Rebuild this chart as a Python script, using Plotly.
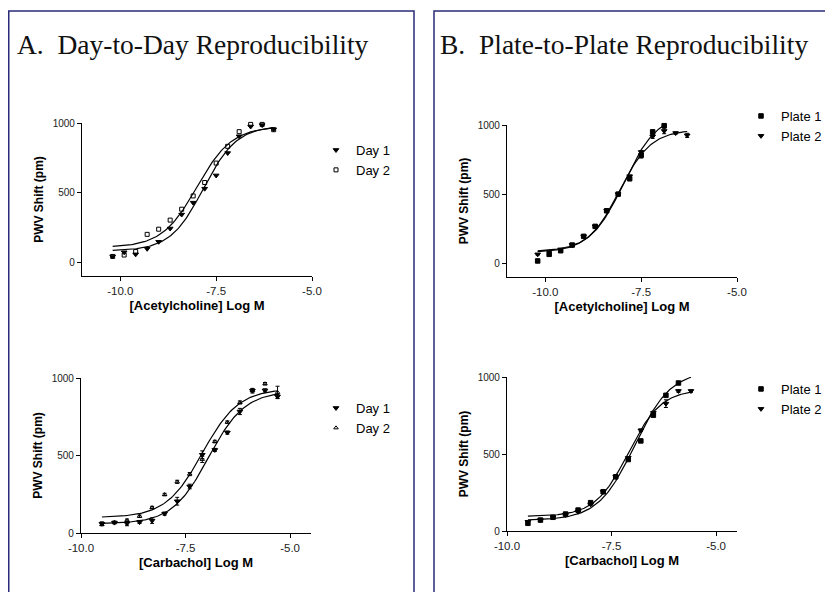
"""Day-to-day and plate-to-plate reproducibility of PWV shift dose-response curves."""
import numpy as np
import plotly.graph_objects as go

# the page body keeps its default 8px margin, so the figure is placed 8px in
OX, OY = 8, 8
W, H = 833 - OX, 592 - OY

# ---- data ----
# A (top): acetylcholine, day to day
ach_day_x = [-10.2, -9.9, -9.6, -9.3, -9.0, -8.7, -8.4, -8.1, -7.8, -7.5, -7.2, -6.9, -6.6, -6.3, -6.0]
ach_day1_y = [45, 75, 60, 100, 150, 245, 345, 430, 530, 625, 785, 905, 975, 985, 955]
ach_day2_y = [45, 55, 80, 203, 240, 305, 383, 478, 574, 713, 833, 938, 990, 990, 952]

# A (bottom): carbachol, day to day
cch_day_x = [-9.5, -9.2, -8.9, -8.6, -8.3, -8.0, -7.7, -7.4, -7.1, -6.8, -6.5, -6.2, -5.9, -5.6, -5.3]
cch_day1_y = [60, 67, 62, 71, 80, 125, 205, 300, 505, 536, 648, 784, 918, 920, 881]
cch_day1_err = [12, 8, 15, 10, 18, 10, 25, 15, 25, 10, 10, 20, 15, 10, 12]
cch_day2_y = [55, 70, 82, 108, 164, 248, 330, 380, 475, 590, 715, 842, 920, 963, 907]
cch_day2_err = [8, 6, 8, 8, 8, 8, 10, 10, 20, 8, 8, 10, 10, 8, 40]

# B (top): acetylcholine, plate to plate
ach_plate1_x = [-10.2, -9.9, -9.6, -9.3, -9.0, -8.7, -8.4, -8.1, -7.8, -7.5, -7.2, -6.9]
ach_plate1_y = [17, 65, 91, 132, 195, 267, 380, 500, 612, 781, 950, 995]
ach_plate1_err = [5, 10, 8, 5, 5, 5, 5, 5, 15, 20, 15, 15]
ach_plate2_x = [-10.2, -9.9, -9.6, -9.3, -9.0, -8.7, -8.4, -8.1, -7.8, -7.5, -7.2, -6.9, -6.6, -6.3]
ach_plate2_y = [65, 84, 101, 132, 195, 267, 380, 500, 630, 805, 918, 957, 942, 925]
ach_plate2_err = [5, 5, 5, 5, 5, 5, 5, 5, 8, 8, 15, 20, 8, 15]

# B (bottom): carbachol, plate to plate
cch_plate_x = [-9.5, -9.2, -8.9, -8.6, -8.3, -8.0, -7.7, -7.4, -7.1, -6.8, -6.5, -6.2, -5.9, -5.6]
cch_plate1_y = [50, 71, 89, 110, 136, 184, 255, 352, 464, 585, 752, 881, 961, None]
cch_plate2_y = [60, 71, 89, 104, 125, 173, 255, 352, 475, 654, 767, 827, 909, 909]
cch_plate2_err = [5, 5, 5, 5, 5, 5, 5, 5, 8, 8, 10, 25, 8, 8]

# 4-parameter logistic fits: (bottom, top, logEC50, hill)
fit_ach_day1 = (85, 980, -7.83, 1.0)
fit_ach_day2 = (110, 975, -8.0, 0.95)
fit_cch_day1 = (60, 915, -6.95, 1.0)
fit_cch_day2 = (100, 930, -7.1, 1.0)
fit_ach_plate1 = (85, 1080, -7.95, 1.0)
fit_ach_plate2 = (80, 965, -8.07, 1.05)
fit_cch_plate1 = (70, 1040, -6.95, 1.0)
fit_cch_plate2 = (95, 920, -7.1, 1.1)

FONT = "Arial, Liberation Sans, sans-serif"
BORDER = "#2a2a78"


def fx(px):
    return (px - OX) / W


def fy(py):
    return 1 - (py - OY) / H


def px_x(a, b):
    return [fx(a), fx(b)]


def px_y(top, bottom):
    return [fy(bottom), fy(top)]


def fit_curve(params, x0, x1):
    bottom, top, logec50, hill = params
    xs = np.linspace(x0, x1, 120)
    return xs, bottom + (top - bottom) / (1 + 10 ** ((logec50 - xs) * hill))


fig = go.Figure()


def add_points(x, y, name, symbol, axis, legend, err=None, size=5):
    xa, ya = axis
    fig.add_trace(go.Scatter(
        x=x, y=y, mode="markers", name=name,
        marker=dict(symbol=symbol, size=size, color="black",
                    line=dict(color="black", width=1)),
        error_y=dict(type="data", array=err, visible=err is not None,
                     color="black", thickness=1, width=2),
        xaxis=xa, yaxis=ya, legend=legend, cliponaxis=False,
    ))


def add_fit(params, x0, x1, axis):
    xa, ya = axis
    xs, ys = fit_curve(params, x0, x1)
    fig.add_trace(go.Scatter(
        x=xs, y=ys, mode="lines", line=dict(color="black", width=1.2),
        showlegend=False, hoverinfo="skip", xaxis=xa, yaxis=ya, cliponaxis=False,
    ))


# A top
ax = ("x", "y")
add_fit(fit_ach_day1, -10.2, -6.0, ax)
add_fit(fit_ach_day2, -10.2, -6.0, ax)
add_points(ach_day_x, ach_day1_y, "Day 1", "triangle-down", ax, "legend")
add_points(ach_day_x, ach_day2_y, "Day 2", "square-open", ax, "legend", size=4)

# A bottom
ax = ("x2", "y2")
add_fit(fit_cch_day1, -9.5, -5.3, ax)
add_fit(fit_cch_day2, -9.5, -5.3, ax)
add_points(cch_day_x, cch_day1_y, "Day 1", "triangle-down", ax, "legend2", cch_day1_err)
add_points(cch_day_x, cch_day2_y, "Day 2", "triangle-up-open", ax, "legend2", cch_day2_err, size=4)

# B top
ax = ("x3", "y3")
add_fit(fit_ach_plate1, -10.2, -6.9, ax)
add_fit(fit_ach_plate2, -10.2, -6.3, ax)
add_points(ach_plate1_x, ach_plate1_y, "Plate 1", "square", ax, "legend3", ach_plate1_err, size=4.5)
add_points(ach_plate2_x, ach_plate2_y, "Plate 2", "triangle-down", ax, "legend3", ach_plate2_err)

# B bottom
ax = ("x4", "y4")
add_fit(fit_cch_plate1, -9.5, -5.6, ax)
add_fit(fit_cch_plate2, -9.5, -5.6, ax)
add_points(cch_plate_x, cch_plate1_y, "Plate 1", "square", ax, "legend4", size=4.5)
add_points(cch_plate_x, cch_plate2_y, "Plate 2", "triangle-down", ax, "legend4", cch_plate2_err)


def xaxis(dom, rng, title, anchor):
    return dict(domain=dom, range=rng, anchor=anchor, tickvals=[-10, -7.5, -5],
                ticktext=["-10.0", "-7.5", "-5.0"], showline=True, linecolor="black",
                linewidth=1.2, ticks="outside", ticklen=4, tickcolor="black",
                showgrid=False, zeroline=False, automargin=False,
                tickfont=dict(family=FONT, size=11.5, color="#222"),
                title=dict(text=f"<b>{title}</b>", font=dict(family=FONT, size=13, color="black"),
                           standoff=4))


def yaxis(dom, rng, anchor):
    return dict(domain=dom, range=rng, anchor=anchor, tickvals=[0, 500, 1000],
                showline=True, linecolor="black", linewidth=1.2, ticks="outside",
                ticklen=4, tickcolor="black", showgrid=False, zeroline=False,
                automargin=False,
                tickfont=dict(family=FONT, size=10, color="#222"),
                title=dict(text="<b>PWV Shift (pm)</b>", font=dict(family=FONT, size=12, color="black"),
                           standoff=6))


def legend_at(x, y):
    return dict(x=fx(x), y=fy(y), xanchor="left", yanchor="top",
                font=dict(family=FONT, size=13, color="black"),
                bgcolor="rgba(0,0,0,0)", itemwidth=30, tracegroupgap=0)


fig.update_layout(
    width=W, height=H,
    margin=dict(l=0, r=0, t=0, b=0, pad=0, autoexpand=False),
    paper_bgcolor="white", plot_bgcolor="white",
    xaxis=xaxis(px_x(82, 312), [-11, -5], "[Acetylcholine] Log M", "y"),
    yaxis=yaxis(px_y(123, 276), [-95, 1000], "x"),
    xaxis2=xaxis(px_x(81, 311), [-10, -4.5], "[Carbachol] Log M", "y2"),
    yaxis2=yaxis(px_y(378, 533), [0, 1000], "x2"),
    xaxis3=xaxis(px_x(507, 737), [-11, -5], "[Acetylcholine] Log M", "y3"),
    yaxis3=yaxis(px_y(125, 277), [-99, 1000], "x3"),
    xaxis4=xaxis(px_x(507, 737), [-10, -4.5], "[Carbachol] Log M", "y4"),
    yaxis4=yaxis(px_y(377, 531), [0, 1000], "x4"),
    legend=legend_at(316, 135),
    legend2=legend_at(316, 393),
    legend3=legend_at(741, 101),
    legend4=legend_at(741, 374),
    showlegend=True,
)

# panel frames
for x0, x1 in [(8.75, 414), (434, 850)]:
    fig.add_shape(type="rect", xref="paper", yref="paper",
                  x0=fx(x0), x1=fx(x1), y0=fy(620), y1=fy(11),
                  line=dict(color=BORDER, width=1.5))

for txt, x in [("A.\u00a0 Day-to-Day Reproducibility", 15),
               ("B.\u00a0 Plate-to-Plate Reproducibility", 438)]:
    fig.add_annotation(text=txt, x=fx(x), y=fy(45), xref="paper", yref="paper",
                       xanchor="left", yanchor="middle", showarrow=False,
                       font=dict(family="Liberation Serif, serif", size=27.5, color="#111"))

fig.write_html("out.html")
